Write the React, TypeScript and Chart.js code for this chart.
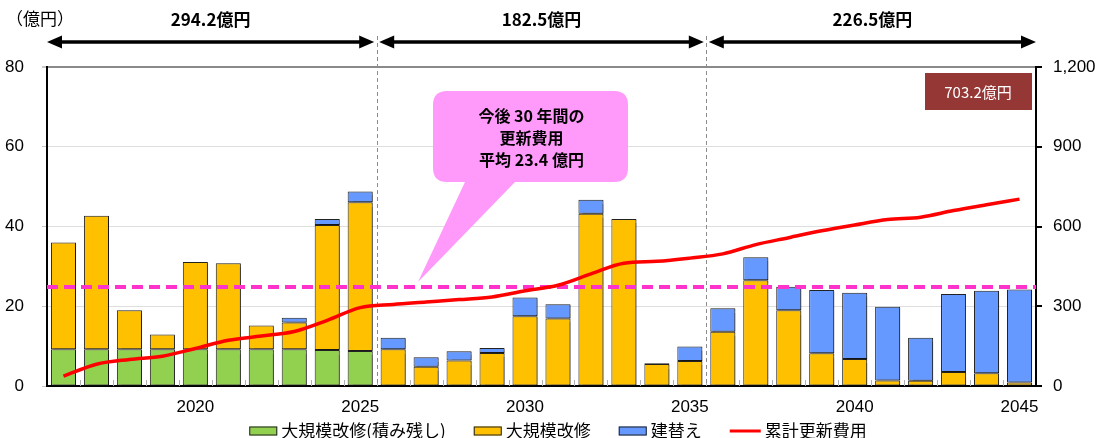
import { useEffect, useRef } from "react";
import { Chart, registerables } from "chart.js";

Chart.register(...registerables);

// ---------- data ----------
const years = [
  "2016", "2017", "2018", "2019", "2020", "2021", "2022", "2023", "2024", "2025",
  "2026", "2027", "2028", "2029", "2030", "2031", "2032", "2033", "2034", "2035",
  "2036", "2037", "2038", "2039", "2040", "2041", "2042", "2043", "2044", "2045",
];
// 大規模改修(積み残し)
const backlogRenovation = [
  9.2, 9.2, 9.2, 9.2, 9.2, 9.2, 9.2, 9.2, 9.0, 8.8,
  0, 0, 0, 0, 0, 0, 0, 0, 0, 0,
  0, 0, 0, 0, 0, 0, 0, 0, 0, 0,
];
// 大規模改修
const majorRenovation = [
  26.8, 33.5, 9.8, 3.7, 21.9, 21.6, 6.0, 6.7, 31.4, 37.3,
  9.2, 4.8, 6.4, 8.3, 17.5, 16.9, 43.2, 41.9, 5.5, 6.3,
  13.6, 26.5, 19.0, 8.2, 6.8, 1.4, 1.3, 3.5, 3.2, 0.9,
];
// 建替え
const rebuilding = [
  0, 0, 0, 0, 0, 0, 0, 1.2, 1.5, 2.7,
  2.9, 2.4, 2.3, 1.2, 4.7, 3.6, 3.5, 0, 0.2, 3.6,
  5.9, 5.8, 5.9, 15.9, 16.6, 18.5, 10.8, 19.6, 20.7, 23.3,
];
// 累計更新費用 (right axis)
const cumulativeCost = [
  37, 82, 100, 112, 141, 172, 188, 205, 247, 295,
  307, 316, 325, 335, 358, 379, 422, 462, 469, 481,
  497, 532, 558, 584, 606, 626, 635, 660, 682, 703,
];
const leftAxisMax = 80;
const leftAxisStep = 20;
const rightAxisMax = 1200;
const rightAxisStep = 300;
const averageLineValue = 24.8;
const periodTotals = ["294.2億円", "182.5億円", "226.5億円"];
const periodBreakAfter = [9, 19];
const calloutLines = ["今後 30 年間の", "更新費用", "平均 23.4 億円"];
const totalLabel = "703.2億円";
const unitLabel = "（億円）";
const seriesLabels = ["大規模改修(積み残し)", "大規模改修", "建替え", "累計更新費用"];

// ---------- styles ----------
const GREEN = "#92D050";
const ORANGE = "#FFC000";
const BLUE = "#6699FF";
const RED = "#FF0000";
const PINK = "#FF33CC";
const JP = '"Noto Sans CJK JP", "Noto Sans", sans-serif';
const NUM = '"Liberation Sans", Arial, sans-serif';

function drawArrow(ctx: CanvasRenderingContext2D, x1: number, x2: number, y: number) {
  const hl = 15;
  const hh = 6.5;
  ctx.save();
  ctx.fillStyle = "#000";
  ctx.strokeStyle = "#000";
  ctx.lineWidth = 3.5;
  ctx.beginPath();
  ctx.moveTo(x1 + hl - 2, y);
  ctx.lineTo(x2 - hl + 2, y);
  ctx.stroke();
  ctx.beginPath();
  ctx.moveTo(x1, y);
  ctx.lineTo(x1 + hl, y - hh);
  ctx.lineTo(x1 + hl, y + hh);
  ctx.closePath();
  ctx.fill();
  ctx.beginPath();
  ctx.moveTo(x2, y);
  ctx.lineTo(x2 - hl, y - hh);
  ctx.lineTo(x2 - hl, y + hh);
  ctx.closePath();
  ctx.fill();
  ctx.restore();
}

function boundaryX(chart: any, i: number) {
  const x = chart.scales.x;
  return (x.getPixelForValue(i) + x.getPixelForValue(i + 1)) / 2;
}

const overlayPlugin = {
  id: "overlay",
  beforeDatasetsDraw(chart: any) {
    const { ctx, chartArea: ca } = chart;
    ctx.save();
    ctx.strokeStyle = "#b0b0b0";
    ctx.lineWidth = 1;
    for (let i = 0; i < years.length - 1; i++) {
      const bx = Math.round(boundaryX(chart, i)) + 0.5;
      ctx.beginPath();
      ctx.moveTo(bx, ca.bottom - 6);
      ctx.lineTo(bx, ca.bottom);
      ctx.stroke();
    }
    ctx.setLineDash([4, 3]);
    ctx.strokeStyle = "#8c8c8c";
    for (const b of periodBreakAfter) {
      const bx = Math.round(boundaryX(chart, b)) + 0.5;
      ctx.beginPath();
      ctx.moveTo(bx, 36);
      ctx.lineTo(bx, ca.bottom);
      ctx.stroke();
    }
    ctx.restore();
  },
  beforeDatasetDraw(chart: any, args: any) {
    const { ctx, chartArea: ca } = chart;
    if (args.index === 3) {
      const y = chart.scales.y.getPixelForValue(averageLineValue);
      ctx.save();
      ctx.strokeStyle = PINK;
      ctx.lineWidth = 4;
      ctx.setLineDash([11, 6]);
      ctx.beginPath();
      ctx.moveTo(ca.left, y);
      ctx.lineTo(ca.right, y);
      ctx.stroke();
      ctx.restore();
    } else {
      ctx.save();
      ctx.shadowColor = "rgba(0,0,0,0.4)";
      ctx.shadowOffsetX = 2;
      ctx.shadowOffsetY = 1;
      ctx.shadowBlur = 1;
    }
  },
  afterDatasetDraw(chart: any, args: any) {
    if (args.index !== 3) chart.ctx.restore();
  },
  afterDraw(chart: any) {
    const { ctx, chartArea: ca } = chart;
    const b1 = boundaryX(chart, periodBreakAfter[0]);
    const b2 = boundaryX(chart, periodBreakAfter[1]);
    const segs = [
      [ca.left, b1 - 2.5],
      [b1 + 2.5, b2 - 2.5],
      [b2 + 2.5, ca.right],
    ];
    ctx.save();
    // unit
    ctx.fillStyle = "#000";
    ctx.font = `17px ${JP}`;
    ctx.textAlign = "left";
    ctx.textBaseline = "middle";
    ctx.fillText(unitLabel, 6, 19);
    // period totals + arrows
    ctx.font = `bold 17px ${JP}`;
    ctx.textAlign = "center";
    segs.forEach((s, i) => {
      drawArrow(ctx, s[0], s[1], 42);
      ctx.fillText(periodTotals[i], (s[0] + s[1]) / 2, 20);
    });
    // callout
    const bx = 433, by = 91, bw = 195, bh = 91, r = 14;
    ctx.fillStyle = "#FF99FA";
    ctx.beginPath();
    ctx.moveTo(bx + r, by);
    ctx.lineTo(bx + bw - r, by);
    ctx.quadraticCurveTo(bx + bw, by, bx + bw, by + r);
    ctx.lineTo(bx + bw, by + bh - r);
    ctx.quadraticCurveTo(bx + bw, by + bh, bx + bw - r, by + bh);
    ctx.lineTo(515, by + bh);
    ctx.lineTo(418, 282);
    ctx.lineTo(465, by + bh);
    ctx.lineTo(bx + r, by + bh);
    ctx.quadraticCurveTo(bx, by + bh, bx, by + bh - r);
    ctx.lineTo(bx, by + r);
    ctx.quadraticCurveTo(bx, by, bx + r, by);
    ctx.closePath();
    ctx.fill();
    ctx.fillStyle = "#000";
    ctx.font = `bold 16px ${JP}`;
    calloutLines.forEach((t, i) => ctx.fillText(t, bx + bw / 2 + 1, 116 + i * 22));
    // total box
    ctx.fillStyle = "#953735";
    ctx.fillRect(925, 73, 107, 37);
    ctx.fillStyle = "#fff";
    ctx.font = `15px ${JP}`;
    ctx.fillText(totalLabel, 978, 92);
    // legend
    ctx.font = `17px ${JP}`;
    const kinds = ["box", "box", "box", "line"];
    const colors = [GREEN, ORANGE, BLUE, RED];
    const markW = [28, 28, 28, 31];
    const gapMT = 4;
    const gapItems = 28;
    let total = 0;
    seriesLabels.forEach((l, i) => {
      total += markW[i] + gapMT + ctx.measureText(l).width;
    });
    total += gapItems * (seriesLabels.length - 1);
    let cx = 558 - total / 2;
    const ly = 431;
    ctx.textAlign = "left";
    seriesLabels.forEach((l, i) => {
      if (kinds[i] === "box") {
        ctx.fillStyle = colors[i];
        ctx.fillRect(cx, ly - 4.5, markW[i], 9);
        ctx.strokeStyle = "#222";
        ctx.lineWidth = 1;
        ctx.strokeRect(cx + 0.5, ly - 4.5 + 0.5, markW[i] - 1, 8);
      } else {
        ctx.strokeStyle = colors[i];
        ctx.lineWidth = 3;
        ctx.beginPath();
        ctx.moveTo(cx, ly);
        ctx.lineTo(cx + markW[i], ly);
        ctx.stroke();
      }
      cx += markW[i] + gapMT;
      ctx.fillStyle = "#000";
      ctx.fillText(l, cx, ly);
      cx += ctx.measureText(l).width + gapItems;
    });
    ctx.restore();
  },
};

export default function App() {
  const ref = useRef<HTMLCanvasElement | null>(null);
  useEffect(() => {
    if (!ref.current) return;
    const barCommon = {
      type: "bar" as const,
      yAxisID: "y",
      stack: "s",
      borderColor: "#222",
      borderWidth: 1,
      borderSkipped: false,
      barPercentage: 0.76,
      categoryPercentage: 1,
      order: 1,
    };
    const chart = new Chart(ref.current, {
      type: "bar",
      data: {
        labels: years,
        datasets: [
          { ...barCommon, label: seriesLabels[0], data: backlogRenovation, backgroundColor: GREEN },
          { ...barCommon, label: seriesLabels[1], data: majorRenovation, backgroundColor: ORANGE },
          { ...barCommon, label: seriesLabels[2], data: rebuilding, backgroundColor: BLUE },
          {
            type: "line",
            label: seriesLabels[3],
            data: cumulativeCost,
            yAxisID: "y1",
            borderColor: RED,
            backgroundColor: RED,
            borderWidth: 3.5,
            pointRadius: 0,
            tension: 0.3,
            cubicInterpolationMode: "monotone",
            order: 0,
          } as any,
        ],
      },
      options: {
        responsive: false,
        animation: false,
        layout: { padding: { top: 67, left: 0, right: 0, bottom: 0 } },
        plugins: { legend: { display: false }, tooltip: { enabled: false } },
        scales: {
          x: {
            stacked: true,
            grid: { display: false, drawTicks: false },
            border: { display: true, color: "#000", width: 2 },
            ticks: {
              autoSkip: false,
              maxRotation: 0,
              padding: 11,
              color: "#000",
              font: { family: NUM, size: 17 },
              callback: (_v: any, i: number) => (Number(years[i]) % 5 === 0 ? years[i] : ""),
            },
            afterFit: (s: any) => {
              s.height = 52;
            },
          },
          y: {
            stacked: true,
            position: "left",
            min: 0,
            max: leftAxisMax,
            grid: {
              color: (c: any) => (c.tick && c.tick.value === leftAxisMax ? "#8a8a8a" : "#dedede"),
              lineWidth: (c: any) => (c.tick && c.tick.value === leftAxisMax ? 2 : 1),
              tickLength: 5,
              drawTicks: true,
              tickColor: "#c8c8c8",
            },
            border: { display: true, color: "#000", width: 2 },
            ticks: {
              stepSize: leftAxisStep,
              padding: 18,
              color: "#000",
              font: { family: NUM, size: 17 },
            },
            afterFit: (s: any) => {
              s.width = 47;
            },
          },
          y1: {
            position: "right",
            min: 0,
            max: rightAxisMax,
            grid: { drawOnChartArea: false, drawTicks: true, tickLength: 6, tickColor: "#000", lineWidth: 2 },
            border: { display: true, color: "#000", width: 2 },
            ticks: {
              stepSize: rightAxisStep,
              padding: 11,
              color: "#000",
              font: { family: NUM, size: 17 },
              callback: (v: any) => Number(v).toLocaleString("en-US"),
            },
            afterFit: (s: any) => {
              s.width = 68;
            },
          },
        },
      },
      plugins: [overlayPlugin],
    } as any);
    return () => chart.destroy();
  }, []);
  return (
    <div style={{ position: "absolute", left: 0, top: 0, width: 1104, height: 438, background: "#fff" }}>
      <canvas ref={ref} width={1104} height={438} style={{ display: "block" }} />
    </div>
  );
}
